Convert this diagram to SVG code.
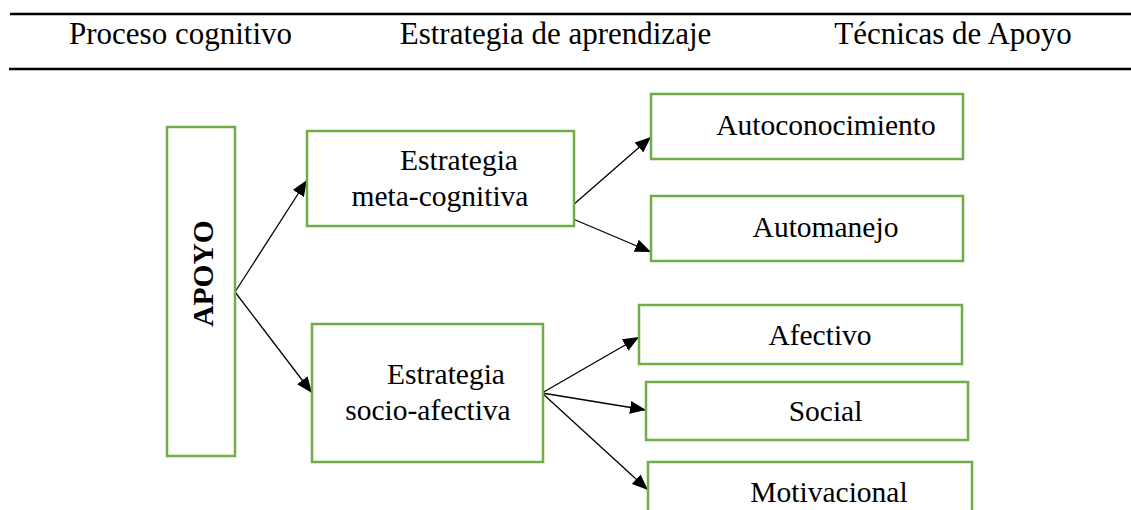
<svg xmlns="http://www.w3.org/2000/svg" width="1131" height="510" viewBox="0 0 1131 510">
<defs>
<style>
.hdr{font-family:"Liberation Serif","Times New Roman",serif;font-size:31px;fill:#000;text-anchor:middle}
.lbl{font-family:"Liberation Serif","Times New Roman",serif;font-size:29.5px;fill:#000;text-anchor:middle}
.bold{font-weight:bold}
.box{fill:#fff;stroke:#70AD47;stroke-width:2.5}
.rule{stroke:#000;stroke-width:2.5}
.con{stroke:#000;stroke-width:1.3;fill:none;marker-end:url(#arr)}
</style>
<marker id="arr" markerUnits="userSpaceOnUse" markerWidth="17" markerHeight="13" refX="16" refY="6.5" orient="auto">
<path d="M0,0 L16,6.5 L0,13 z" fill="#000"/>
</marker>
</defs>
<rect width="1131" height="510" fill="#fff"/>
<g id="header">
<line class="rule" x1="10" y1="14" x2="1131" y2="14"/>
<line class="rule" x1="9" y1="69" x2="1131" y2="69"/>
<text class="hdr" x="180.5" y="44">Proceso cognitivo</text>
<text class="hdr" x="555.5" y="44">Estrategia de aprendizaje</text>
<text class="hdr" x="953" y="44">Técnicas de Apoyo</text>
</g>
<g id="connectors">
<line class="con" x1="235" y1="292" x2="307" y2="180"/>
<line class="con" x1="235" y1="292" x2="312" y2="393"/>
<line class="con" x1="565" y1="212" x2="651" y2="137"/>
<line class="con" x1="566" y1="216" x2="651" y2="252"/>
<line class="con" x1="542" y1="393" x2="639" y2="337"/>
<line class="con" x1="542" y1="393" x2="646" y2="410"/>
<line class="con" x1="542" y1="393" x2="648" y2="490"/>
</g>
<g id="apoyo">
<rect class="box" x="167" y="127" width="68" height="329"/>
<text class="lbl bold" transform="translate(213,273.5) rotate(-90)" x="0" y="0">APOYO</text>
</g>
<g id="meta">
<rect class="box" x="307" y="131" width="267" height="95"/>
<text class="lbl" x="459" y="170">Estrategia</text>
<text class="lbl" x="440" y="206">meta-cognitiva</text>
</g>
<g id="socio">
<rect class="box" x="312" y="324" width="231" height="138"/>
<text class="lbl" x="446" y="384">Estrategia</text>
<text class="lbl" x="428" y="420">socio-afectiva</text>
</g>
<g id="autoconocimiento">
<rect class="box" x="651" y="94" width="312" height="65"/>
<text class="lbl" x="826" y="135">Autoconocimiento</text>
</g>
<g id="automanejo">
<rect class="box" x="651" y="196" width="312" height="65"/>
<text class="lbl" x="825.5" y="237">Automanejo</text>
</g>
<g id="afectivo">
<rect class="box" x="639" y="305" width="323" height="59"/>
<text class="lbl" x="820" y="345">Afectivo</text>
</g>
<g id="social">
<rect class="box" x="646" y="382" width="322" height="58"/>
<text class="lbl" x="825.5" y="421">Social</text>
</g>
<g id="motivacional">
<rect class="box" x="648" y="462" width="324" height="60"/>
<text class="lbl" x="829" y="502">Motivacional</text>
</g>
</svg>
